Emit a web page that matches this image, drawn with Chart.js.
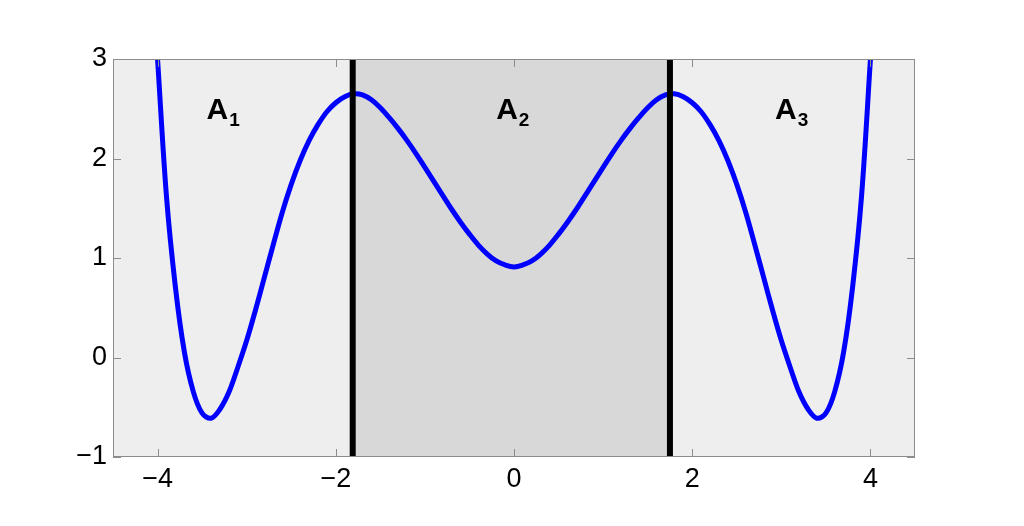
<!DOCTYPE html>
<html>
<head>
<meta charset="utf-8">
<script src="https://cdn.jsdelivr.net/npm/chart.js@4/dist/chart.umd.min.js"></script>
<style>
  body { margin: 0; background: #fff; }
  canvas { display: block; }
</style>
</head>
<body>
<canvas id="curve" width="1024" height="526"></canvas>
<script>
// curve, every 0.1 (left half, then right half)
const curveX = [-4, -3.9, -3.8, -3.7, -3.6, -3.5, -3.4, -3.3, -3.2, -3.1, -3, -2.9, -2.8, -2.7,
  -2.6, -2.5, -2.4, -2.3, -2.2, -2.1, -2, -1.9, -1.8, -1.7, -1.6, -1.5, -1.4, -1.3, -1.2, -1.1,
  -1, -0.9, -0.8, -0.7, -0.6, -0.5, -0.4, -0.3, -0.2, -0.1, 0,
  0.1, 0.2, 0.3, 0.4, 0.5, 0.6, 0.7, 0.8, 0.9, 1, 1.1, 1.2, 1.3, 1.4, 1.5, 1.6, 1.7, 1.8, 1.9,
  2, 2.1, 2.2, 2.3, 2.4, 2.5, 2.6, 2.7, 2.8, 2.9, 3, 3.1, 3.2, 3.3, 3.4, 3.5, 3.6, 3.7, 3.8,
  3.9, 4];
const curveY = [3, 1.62, 0.71, 0.06, -0.34, -0.56, -0.61, -0.52, -0.35, -0.1, 0.17, 0.48, 0.81, 1.14,
  1.46, 1.74, 1.98, 2.18, 2.34, 2.47, 2.56, 2.62, 2.65, 2.64, 2.59, 2.51, 2.41, 2.3, 2.18, 2.05,
  1.91, 1.77, 1.63, 1.49, 1.36, 1.24, 1.13, 1.04, 0.97, 0.93, 0.91,
  0.93, 0.97, 1.04, 1.13, 1.24, 1.36, 1.49, 1.63, 1.77, 1.91, 2.05, 2.18, 2.3, 2.41, 2.51, 2.59,
  2.64, 2.65, 2.62, 2.56, 2.47, 2.34, 2.18, 1.98, 1.74, 1.46, 1.14, 0.81, 0.48, 0.17, -0.1,
  -0.35, -0.52, -0.61, -0.56, -0.34, 0.06, 0.71, 1.62, 3];

// the two black boundaries and the shaded band between them
const bounds = [-1.81, 1.75];
const xTicks = [-4, -2, 0, 2, 4];
const yTicks = [-1, 0, 1, 2, 3];

// region labels A1, A2, A3 (left edge x, y in data units)
const labelSubs = ["1", "2", "3"];
const labelX = [-3.45, -0.2, 2.93];
const labelY = 2.5;

const minus = (v) => String(v).replace("-", "\u2212");
const FONT = "'Liberation Sans', Arial, Helvetica, sans-serif";

const framePlugin = {
  id: "frame",
  beforeDatasetsDraw(chart) {
    const { ctx, chartArea: a, scales } = chart;
    ctx.save();
    ctx.fillStyle = "#eeeeee";
    ctx.fillRect(a.left, a.top, a.right - a.left, a.bottom - a.top);
    const x0 = scales.x.getPixelForValue(bounds[0]);
    const x1 = scales.x.getPixelForValue(bounds[1]);
    ctx.fillStyle = "#d8d8d8";
    ctx.fillRect(x0, a.top, x1 - x0, a.bottom - a.top);
    ctx.restore();
  },
  afterDraw(chart) {
    const { ctx, chartArea: a, scales } = chart;
    ctx.save();
    // box and inward tick marks on all sides
    ctx.strokeStyle = "#8c8c8c";
    ctx.lineWidth = 1;
    ctx.strokeRect(a.left + 0.5, a.top + 0.5, a.right - a.left - 1, a.bottom - a.top - 1);
    const len = 8;
    ctx.beginPath();
    xTicks.forEach((v) => {
      const px = Math.round(scales.x.getPixelForValue(v)) + 0.5;
      ctx.moveTo(px, a.bottom); ctx.lineTo(px, a.bottom - len);
      ctx.moveTo(px, a.top); ctx.lineTo(px, a.top + len);
    });
    yTicks.forEach((v) => {
      const py = Math.round(scales.y.getPixelForValue(v)) + 0.5;
      ctx.moveTo(a.left, py); ctx.lineTo(a.left + len, py);
      ctx.moveTo(a.right, py); ctx.lineTo(a.right - len, py);
    });
    ctx.stroke();

    // labels
    ctx.fillStyle = "#000";
    ctx.textBaseline = "alphabetic";
    labelSubs.forEach((s, i) => {
      const px = scales.x.getPixelForValue(labelX[i]);
      const py = scales.y.getPixelForValue(labelY);
      ctx.font = "bold 30px " + FONT;
      ctx.fillText("A", px, py + 10);
      const w = ctx.measureText("A").width;
      ctx.font = "bold 19px " + FONT;
      ctx.fillText(s, px + w + 1, py + 17);
    });
    ctx.restore();
  },
};

const curvePoints = curveX.map((x, i) => ({ x: x, y: curveY[i] }));

new Chart(document.getElementById("curve"), {
  type: "line",
  data: {
    datasets: [
      {
        data: [{ x: bounds[0], y: -1 }, { x: bounds[0], y: 3 }],
        borderColor: "#000",
        borderWidth: 6,
        pointRadius: 0,
        order: 0,
      },
      {
        data: [{ x: bounds[1], y: -1 }, { x: bounds[1], y: 3 }],
        borderColor: "#000",
        borderWidth: 6,
        pointRadius: 0,
        order: 0,
      },
      {
        data: curvePoints,
        borderColor: "#0000ff",
        borderWidth: 5,
        pointRadius: 0,
        tension: 0.35,
        order: 1,
      },
    ],
  },
  options: {
    responsive: false,
    animation: false,
    layout: { padding: { top: 59, right: 109, bottom: 0, left: 0 } },
    plugins: { legend: { display: false }, tooltip: { enabled: false } },
    scales: {
      x: {
        type: "linear",
        min: -4.5,
        max: 4.5,
        grid: { display: false, drawTicks: false },
        border: { display: false },
        afterBuildTicks: (s) => { s.ticks = xTicks.map((v) => ({ value: v })); },
        afterFit: (s) => { s.height = 69; },
        ticks: {
          padding: 6,
          color: "#000",
          font: { family: FONT, size: 27 },
          maxRotation: 0,
          callback: (v) => minus(v),
        },
      },
      y: {
        type: "linear",
        min: -1,
        max: 3,
        grid: { display: false, drawTicks: false },
        border: { display: false },
        afterBuildTicks: (s) => { s.ticks = yTicks.map((v) => ({ value: v })); },
        afterFit: (s) => { s.width = 113; },
        ticks: {
          padding: 6,
          color: "#000",
          font: { family: FONT, size: 27 },
          callback: (v) => minus(v),
        },
      },
    },
  },
  plugins: [framePlugin],
});
</script>
</body>
</html>
